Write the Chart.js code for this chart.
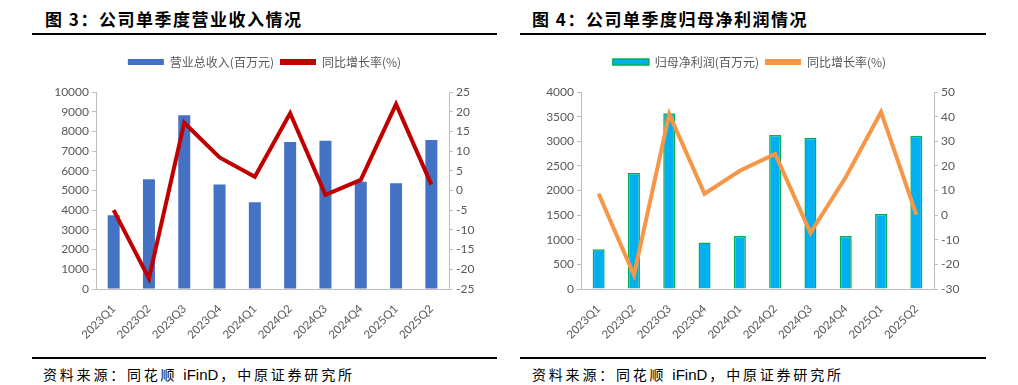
<!DOCTYPE html>
<html>
<head>
<meta charset="utf-8">
<script src="https://cdn.jsdelivr.net/npm/chart.js@4.4.0/dist/chart.umd.min.js"></script>
<style>
body { margin: 0; background: #fff; width: 1018px; height: 385px; overflow: hidden; position: relative; font-family: "Noto Sans CJK SC", sans-serif; }
.title { position: absolute; top: 6px; font-size: 17px; font-weight: bold; color: #000; letter-spacing: 1.5px; white-space: nowrap; }
.rule { position: absolute; height: 2px; background: #000; }
.source { position: absolute; top: 364px; font-size: 14px; color: #000; letter-spacing: 2.8px; white-space: nowrap; }
.source span { letter-spacing: 0; font-family: "Liberation Sans", sans-serif; font-size: 15px; margin-right: 2px; }
.box { position: absolute; top: 40px; width: 465px; height: 310px; }
</style>
</head>
<body>
<div class="title" style="left:45px">图 3：公司单季度营业收入情况</div>
<div class="rule" style="left:32px;width:465px;top:33px"></div>
<div class="box" style="left:32px"><canvas id="revenueChart"></canvas></div>
<div class="rule" style="left:32px;width:465px;top:357px"></div>
<div class="source" style="left:43px">资料来源：同花顺 <span>iFinD</span>，中原证券研究所</div>

<div class="title" style="left:532px">图 4：公司单季度归母净利润情况</div>
<div class="rule" style="left:520px;width:466px;top:33px"></div>
<div class="box" style="left:517px"><canvas id="profitChart"></canvas></div>
<div class="rule" style="left:520px;width:466px;top:357px"></div>
<div class="source" style="left:532px">资料来源：同花顺 <span>iFinD</span>，中原证券研究所</div>

<script>
const quarters = ['2023Q1', '2023Q2', '2023Q3', '2023Q4', '2024Q1', '2024Q2', '2024Q3', '2024Q4', '2025Q1', '2025Q2'];

// 营业总收入 (百万元) and yoy (%)
const revenue = [3740, 5570, 8820, 5300, 4400, 7460, 7530, 5450, 5370, 7560];
const revenueYoy = [-5.0, -22.3, 17.2, 8.4, 3.5, 19.6, -1.1, 2.7, 21.9, 1.5];

// 归母净利润 (百万元) and yoy (%)
const profit = [808, 2357, 3570, 943, 1077, 3125, 3070, 1077, 1521, 3111];
const profitYoy = [8.7, -24.3, 41.0, 8.7, 18.0, 24.8, -7.2, 15.4, 41.9, 0.2];

const gray = '#595959';
const axisGray = '#BFBFBF';

// push the plot area down a bit under the legend
const legendGap = {
    id: 'legendGap',
    beforeInit(chart) {
        const fit = chart.legend.fit;
        chart.legend.fit = function () {
            fit.bind(chart.legend)();
            this.height += 14;
        };
    }
};

function makeChart(canvasId, cfg) {
    const ctx = document.getElementById(canvasId).getContext('2d');
    return new Chart(ctx, {
        data: {
            labels: quarters,
            datasets: [{
                type: 'bar',
                label: cfg.barLabel,
                data: cfg.barData,
                backgroundColor: cfg.barColor,
                borderColor: cfg.barBorder,
                borderWidth: cfg.barBorderWidth,
                barPercentage: 0.68,
                categoryPercentage: 0.5,
                yAxisID: 'y',
                order: 1
            },
            {
                type: 'line',
                label: '同比增长率(%)',
                data: cfg.lineData,
                borderColor: cfg.lineColor,
                backgroundColor: cfg.lineColor,
                borderWidth: 4,
                pointRadius: 0,
                tension: 0,
                yAxisID: 'y1',
                order: 0
            }]
        },
        plugins: [legendGap],
        options: {
            responsive: true,
            maintainAspectRatio: false,
            animation: false,
            layout: { padding: { top: 10 } },
            scales: {
                x: {
                    grid: { display: false },
                    border: { display: true, color: axisGray },
                    ticks: { color: gray, font: { family: 'Lato', size: 11.5 }, minRotation: 45, maxRotation: 45, padding: 5 },
                    afterFit: (scale) => { scale.height = 61; }
                },
                y: {
                    position: 'left',
                    min: cfg.yMin, max: cfg.yMax,
                    grid: { drawOnChartArea: false, drawTicks: true, tickLength: 4, color: axisGray },
                    border: { display: true, color: axisGray },
                    ticks: { stepSize: cfg.yStep, color: gray, font: { family: 'Lato', size: 12 }, padding: 3,
                        callback: (value) => String(value) },
                    afterFit: (scale) => { scale.width = 64; }
                },
                y1: {
                    position: 'right',
                    min: cfg.y1Min, max: cfg.y1Max,
                    grid: { drawOnChartArea: false, drawTicks: true, tickLength: 4, color: axisGray },
                    border: { display: true, color: axisGray },
                    ticks: { stepSize: cfg.y1Step, color: gray, font: { family: 'Lato', size: 12 }, padding: 3,
                        callback: (value) => String(value) },
                    afterFit: (scale) => { scale.width = 48; }
                }
            },
            plugins: {
                tooltip: { enabled: false },
                legend: {
                    display: true,
                    position: 'top',
                    labels: {
                        boxWidth: 36,
                        boxHeight: 6,
                        padding: 6,
                        color: gray,
                        font: { family: 'Noto Sans CJK SC', size: 12 },
                        sort: (a, b) => a.datasetIndex - b.datasetIndex,
                        generateLabels: function (chart) {
                            const items = Chart.defaults.plugins.legend.labels.generateLabels(chart);
                            items.forEach(item => {
                                item.lineWidth = item.datasetIndex === 0 ? cfg.barBorderWidth : 0;
                            });
                            return items;
                        }
                    }
                }
            }
        }
    });
}

makeChart('revenueChart', {
    barLabel: '营业总收入(百万元)',
    barData: revenue,
    barColor: '#4472C4',
    barBorder: '#4472C4',
    barBorderWidth: 0,
    lineData: revenueYoy,
    lineColor: '#C00000',
    yMin: 0, yMax: 10000, yStep: 1000,
    y1Min: -25, y1Max: 25, y1Step: 5
});

makeChart('profitChart', {
    barLabel: '归母净利润(百万元)',
    barData: profit,
    barColor: '#00B0F0',
    barBorder: '#00B050',
    barBorderWidth: 1.5,
    lineData: profitYoy,
    lineColor: '#F79646',
    yMin: 0, yMax: 4000, yStep: 500,
    y1Min: -30, y1Max: 50, y1Step: 10
});
</script>
</body>
</html>
